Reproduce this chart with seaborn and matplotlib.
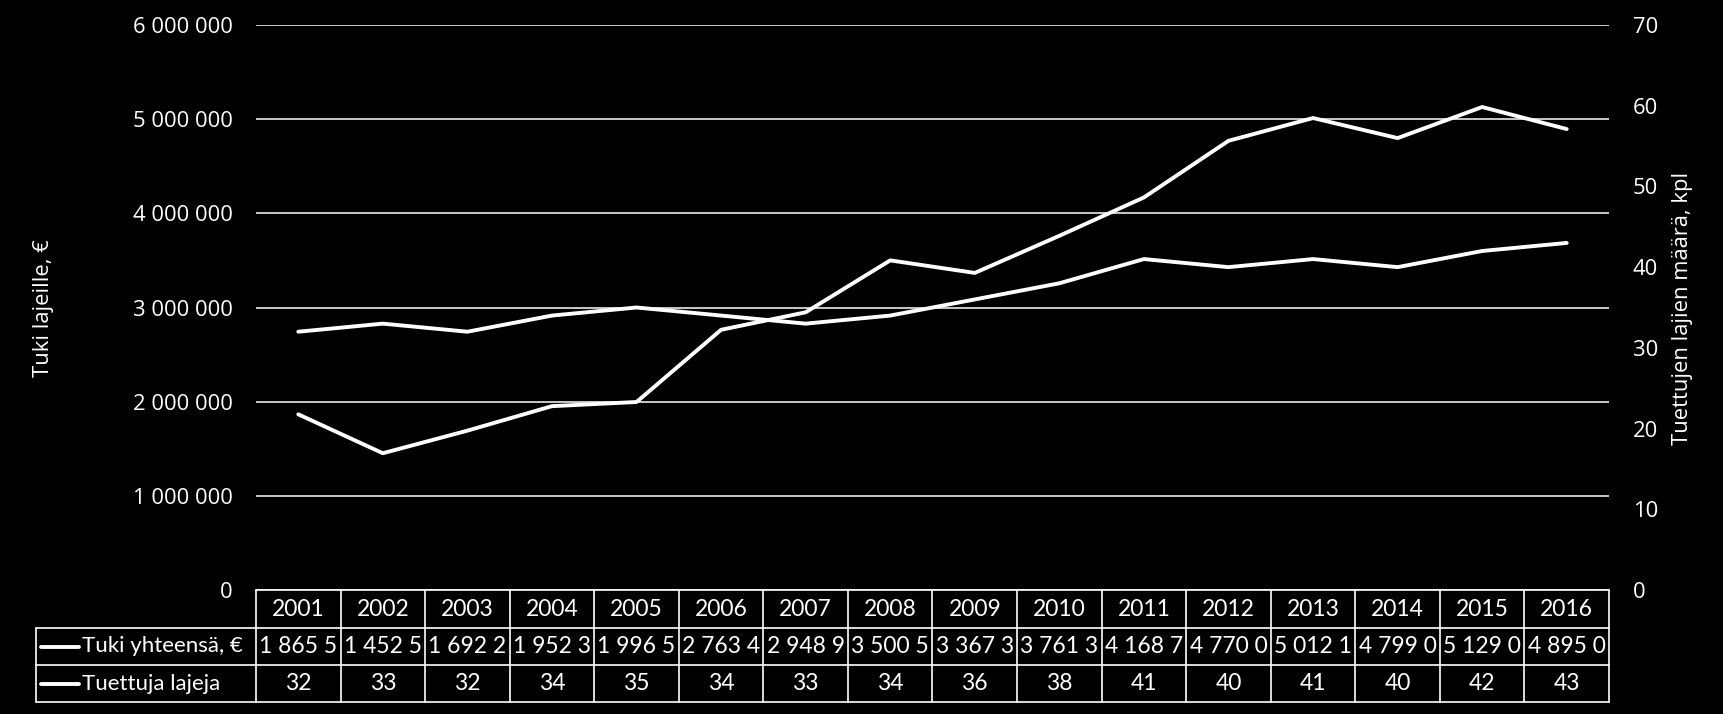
import numpy as np
import pandas as pd
import matplotlib
matplotlib.use("Agg")
import matplotlib.pyplot as plt
import seaborn as sns
from matplotlib.lines import Line2D

# ---------------- data ----------------
years = [2001, 2002, 2003, 2004, 2005, 2006, 2007, 2008,
         2009, 2010, 2011, 2012, 2013, 2014, 2015, 2016]
tuki = [1865500, 1452500, 1692200, 1952300, 1996500, 2763400, 2948900, 3500500,
        3367300, 3761300, 4168700, 4770000, 5012100, 4799000, 5129000, 4895000]
lajeja = [32, 33, 32, 34, 35, 34, 33, 34, 36, 38, 41, 40, 41, 40, 42, 43]
series_labels = ["Tuki yhteensä, €", "Tuettuja lajeja"]
left_title = "Tuki lajeille, €"
right_title = "Tuettujen lajien määrä, kpl"
left_ticks = [0, 1000000, 2000000, 3000000, 4000000, 5000000, 6000000]
right_ticks = [0, 10, 20, 30, 40, 50, 60, 70]


def fmt(v):
    return f"{int(v):,}".replace(",", " ")


# cells in the data table are clipped (as in the original)
tuki_cells = [fmt(v)[:7] for v in tuki]
lajeja_cells = [str(v) for v in lajeja]

df = pd.DataFrame({"Vuosi": years, "Tuki": tuki, "Lajeja": lajeja})

# ---------------- style ----------------
sns.set_theme(style="dark")
plt.rcParams["font.family"] = ["Open Sans", "DejaVu Sans"]
plt.rcParams["figure.facecolor"] = "black"
plt.rcParams["axes.facecolor"] = "black"
plt.rcParams["savefig.facecolor"] = "black"

W, H = 1724, 714
fig = plt.figure(figsize=(W / 100, H / 100), dpi=100)

px_left, px_right, px_top, px_bottom = 256, 1609, 25, 590
ax = fig.add_axes([px_left / W, 1 - px_bottom / H,
                   (px_right - px_left) / W, (px_bottom - px_top) / H])

LW = 2.8
sns.lineplot(data=df, x="Vuosi", y="Tuki", ax=ax, color="white",
             linewidth=LW, legend=False, zorder=3)
ax.set_xlim(years[0] - 0.5, years[-1] + 0.5)
ax.set_ylim(left_ticks[0], left_ticks[-1])
ax.set_yticks(left_ticks)
ax.set_yticklabels([fmt(v) for v in left_ticks])
ax.set_xticks([])
ax.set_xlabel("")
ax.set_ylabel("")
ax.yaxis.grid(True, color="white", linewidth=1.1)
ax.xaxis.grid(False)
ax.set_axisbelow(True)
ax.tick_params(axis="y", length=0, pad=17, labelsize=15.8, colors="white")
for s in ax.spines.values():
    s.set_visible(False)

ax2 = ax.twinx()
sns.lineplot(data=df, x="Vuosi", y="Lajeja", ax=ax2, color="white",
             linewidth=LW, legend=False, zorder=3)
ax2.set_ylim(right_ticks[0], right_ticks[-1])
ax2.set_yticks(right_ticks)
ax2.set_yticklabels([str(v) for v in right_ticks])
ax2.set_ylabel("")
ax2.grid(False)
ax2.tick_params(axis="y", length=0, pad=17, labelsize=15.8, colors="white")
for s in ax2.spines.values():
    s.set_visible(False)

fig.text(44 / W, 1 - 308 / H, left_title, rotation=90, color="white",
         fontsize=15.8, ha="center", va="center")
fig.text(1683 / W, 1 - 308 / H, right_title, rotation=90, color="white",
         fontsize=15.8, ha="center", va="center")

# ---------------- data table ----------------
ax_bb = ax.get_position()


def xfig(xd):
    x0, x1 = ax.get_xlim()
    return ax_bb.x0 + (xd - x0) / (x1 - x0) * ax_bb.width


def yfig(py):
    return 1 - py / H


row_px = [590, 628, 665, 702]
tbl_left_px = 36
lw_tbl = 1.2
x_last = xfig(years[-1] + 0.5)
x_first = xfig(years[0] - 0.5)

# horizontal borders
fig.add_artist(Line2D([x_first, x_last], [yfig(row_px[0])] * 2,
                      color="white", lw=lw_tbl, transform=fig.transFigure))
for py in row_px[1:]:
    fig.add_artist(Line2D([tbl_left_px / W, x_last], [yfig(py)] * 2,
                          color="white", lw=lw_tbl, transform=fig.transFigure))
# vertical borders
fig.add_artist(Line2D([tbl_left_px / W] * 2, [yfig(row_px[1]), yfig(row_px[3])],
                      color="white", lw=lw_tbl, transform=fig.transFigure))
for i in range(len(years) + 1):
    xv = xfig(years[0] - 0.5 + i)
    fig.add_artist(Line2D([xv, xv], [yfig(row_px[0]), yfig(row_px[3])],
                          color="white", lw=lw_tbl, transform=fig.transFigure))

tfont = dict(color="white", fontsize=16.5, family=["Lato", "DejaVu Sans"],
             ha="center", va="center")
rows = [[str(y) for y in years], tuki_cells, lajeja_cells]
for r, cells in enumerate(rows):
    ymid = yfig((row_px[r] + row_px[r + 1]) / 2)
    for yr, txt in zip(years, cells):
        fig.text(xfig(yr), ymid, txt, **tfont)

# row headers with legend keys
for r, lab in enumerate(series_labels, start=1):
    ymid = yfig((row_px[r] + row_px[r + 1]) / 2)
    fig.add_artist(Line2D([41 / W, 79 / W], [ymid, ymid], color="white",
                          lw=2.8, solid_capstyle="round",
                          transform=fig.transFigure))
    fig.text(82 / W, ymid, lab, color="white", fontsize=16,
             family=["Lato", "DejaVu Sans"], ha="left", va="center")

fig.savefig("out.png", dpi=100, facecolor="black")
